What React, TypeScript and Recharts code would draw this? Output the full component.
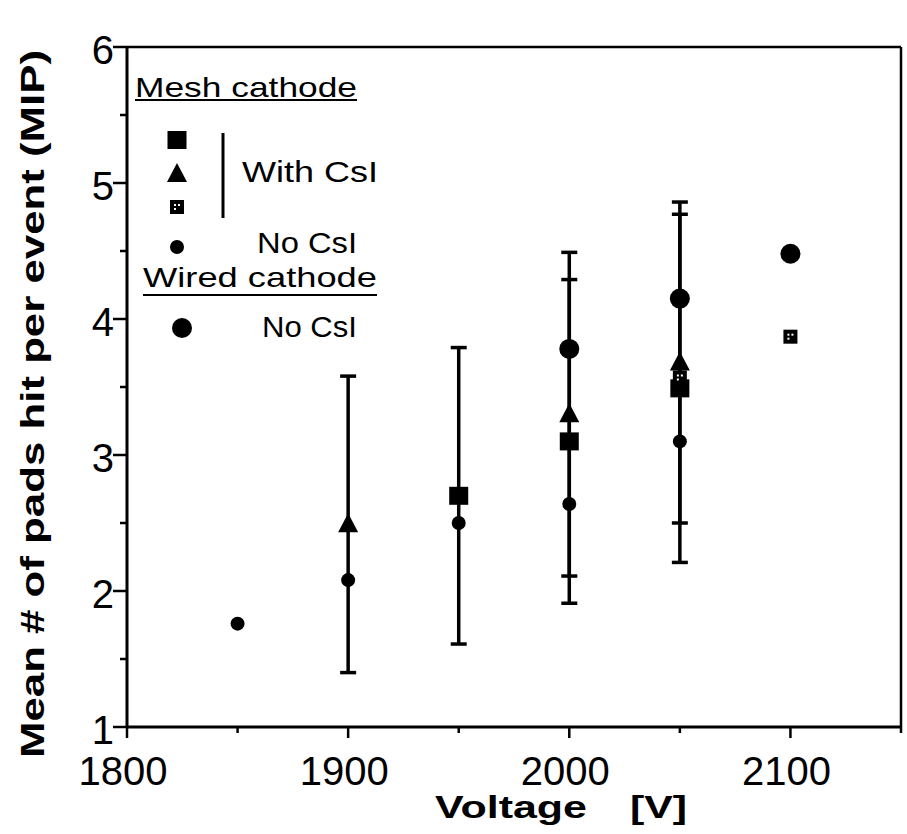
import React from "react";
import { ScatterChart, Scatter, XAxis, YAxis, ErrorBar } from "recharts";

const FONT = '"Liberation Sans", Arial, Helvetica, sans-serif';

// Mesh cathode, with CsI: large squares
const squareVolts = [1950, 2000, 2050];
const squareMip = [2.7, 3.1, 3.49];
const squareErr = [1.09, 1.19, 1.28];

// Mesh cathode, with CsI: triangles
const triangleVolts = [1900, 2000, 2050];
const triangleMip = [2.49, 3.3, 3.68];
const triangleErr = [1.09, 1.19, 1.18];

// Mesh cathode, with CsI: small squares
const smallSquareVolts = [2050, 2100];
const smallSquareMip = [3.57, 3.87];

// Mesh cathode, no CsI: small dots
const meshNoCsiVolts = [1850, 1900, 1950, 2000, 2050];
const meshNoCsiMip = [1.76, 2.08, 2.5, 2.64, 3.1];

// Wired cathode, no CsI: large dots
const wiredVolts = [2000, 2050, 2100];
const wiredMip = [3.78, 4.15, 4.48];

const xTicks = [1800, 1850, 1900, 1950, 2000, 2050, 2100, 2150];
const yTicks = [1, 1.5, 2, 2.5, 3, 3.5, 4, 4.5, 5, 5.5, 6];

const toRows = (v: number[], m: number[], e?: number[]) =>
  v.map((x, i) => ({ v: x, m: m[i], e: e ? e[i] : 0 }));

const W = 907;
const H = 834;
const PLOT_LEFT = 127;
const PLOT_TOP = 47;
const PLOT_RIGHT = 901;
const PLOT_BOTTOM = 727;

// axis band sizes (must be > 0 or recharts skips the axis)
const BOTTOM_AXIS_H = 30;
const TOP_AXIS_H = 14;
const LEFT_AXIS_W = 30;
const RIGHT_AXIS_W = 4;

// marker shapes
const BigSquare = ({ cx, cy }: any) => (
  <rect x={cx - 9.5} y={cy - 9} width={19} height={18} fill="#000" />
);
const Triangle = ({ cx, cy }: any) => (
  <polygon points={`${cx},${cy - 11} ${cx + 10},${cy + 8} ${cx - 10},${cy + 8}`} fill="#000" />
);
const SmallSquare = ({ cx, cy }: any) => (
  <g>
    <rect x={cx - 7} y={cy - 7} width={14} height={14} fill="#000" />
    <rect x={cx - 3} y={cy - 3} width={2} height={2} fill="#fff" />
    <rect x={cx + 1} y={cy - 3} width={2} height={2} fill="#fff" />
    <rect x={cx - 3} y={cy + 1} width={2} height={2} fill="#fff" />
  </g>
);
const SmallDot = ({ cx, cy }: any) => <circle cx={cx} cy={cy} r={7} fill="#000" />;
const BigDot = ({ cx, cy }: any) => <circle cx={cx} cy={cy} r={10} fill="#000" />;

const BottomTick = ({ x, payload }: any) => {
  const major = payload.value % 100 === 0;
  return (
    <g>
      <line x1={x} x2={x} y1={PLOT_BOTTOM} y2={PLOT_BOTTOM + (major ? 11 : 6)} stroke="#000" strokeWidth={2.5} />
      {major && (
        <text x={x - 4} y={785} textAnchor="middle" fontSize={40} fontFamily={FONT} fill="#000">
          {payload.value}
        </text>
      )}
    </g>
  );
};

const TopTick = ({ x, payload }: any) => {
  const major = payload.value % 100 === 0;
  return <line x1={x} x2={x} y1={PLOT_TOP} y2={PLOT_TOP - (major ? 12 : 6)} stroke="#000" strokeWidth={2.5} />;
};

const LeftTick = ({ y, payload }: any) => {
  const major = Number.isInteger(payload.value);
  return (
    <g>
      <line x1={PLOT_LEFT} x2={PLOT_LEFT - (major ? 14 : 7)} y1={y} y2={y} stroke="#000" strokeWidth={2.5} />
      {major && (
        <text x={114} y={y + 17} textAnchor="end" fontSize={40} fontFamily={FONT} fill="#000">
          {payload.value}
        </text>
      )}
    </g>
  );
};

function Legend() {
  const txt = { fontFamily: FONT, fill: "#000" };
  return (
    <svg width={W} height={H} style={{ position: "absolute", left: 0, top: 0, pointerEvents: "none" }}>
      <text x={135} y={97} fontSize={28} textLength={222} lengthAdjust="spacingAndGlyphs" {...txt}>
        Mesh cathode
      </text>
      <line x1={135} x2={357} y1={100} y2={100} stroke="#000" strokeWidth={2} />
      <BigSquare cx={177} cy={140} />
      <Triangle cx={177} cy={174} />
      <SmallSquare cx={177} cy={207} />
      <SmallDot cx={177} cy={247} />
      <line x1={223} x2={223} y1={133} y2={218} stroke="#000" strokeWidth={3} />
      <text x={242} y={182} fontSize={30} textLength={136} lengthAdjust="spacingAndGlyphs" {...txt}>
        With CsI
      </text>
      <text x={257} y={253} fontSize={30} textLength={100} lengthAdjust="spacingAndGlyphs" {...txt}>
        No CsI
      </text>
      <text x={143} y={287} fontSize={28} textLength={234} lengthAdjust="spacingAndGlyphs" {...txt}>
        Wired cathode
      </text>
      <line x1={143} x2={377} y1={295} y2={295} stroke="#000" strokeWidth={2} />
      <BigDot cx={182} cy={328} />
      <text x={262} y={337} fontSize={30} textLength={95} lengthAdjust="spacingAndGlyphs" {...txt}>
        No CsI
      </text>

      {/* axis titles */}
      <text x={435} y={818} fontSize={32} fontWeight="bold" textLength={152} lengthAdjust="spacingAndGlyphs" {...txt}>
        Voltage
      </text>
      <text x={630} y={818} fontSize={32} fontWeight="bold" textLength={57} lengthAdjust="spacingAndGlyphs" {...txt}>
        [V]
      </text>
      <text
        transform="translate(44, 758) rotate(-90)"
        fontSize={34}
        fontWeight="bold"
        textLength={708}
        lengthAdjust="spacingAndGlyphs"
        {...txt}
      >
        Mean # of pads hit per event (MIP)
      </text>
    </svg>
  );
}

export default function App() {
  return (
    <div style={{ position: "absolute", left: 0, top: 0, width: W, height: H, background: "#fff" }}>
      <ScatterChart
        width={W}
        height={H}
        margin={{
          top: PLOT_TOP - TOP_AXIS_H,
          right: W - PLOT_RIGHT - RIGHT_AXIS_W,
          bottom: H - PLOT_BOTTOM - BOTTOM_AXIS_H,
          left: PLOT_LEFT - LEFT_AXIS_W,
        }}
      >
        <XAxis
          type="number"
          dataKey="v"
          domain={[1800, 2150]}
          ticks={xTicks}
          height={BOTTOM_AXIS_H}
          tickSize={0}
          tickLine={false}
          tick={<BottomTick />}
          axisLine={{ stroke: "#000", strokeWidth: 3 }}
          interval={0}
        />
        <XAxis
          xAxisId="top"
          orientation="top"
          type="number"
          domain={[1800, 2150]}
          ticks={xTicks}
          height={TOP_AXIS_H}
          tickSize={0}
          tickLine={false}
          tick={<TopTick />}
          axisLine={{ stroke: "#000", strokeWidth: 2.5 }}
          interval={0}
        />
        <YAxis
          type="number"
          dataKey="m"
          domain={[1, 6]}
          ticks={yTicks}
          width={LEFT_AXIS_W}
          tickSize={0}
          tickLine={false}
          tick={<LeftTick />}
          axisLine={{ stroke: "#000", strokeWidth: 3 }}
          interval={0}
        />
        <YAxis
          yAxisId="right"
          orientation="right"
          type="number"
          domain={[1, 6]}
          ticks={yTicks}
          width={RIGHT_AXIS_W}
          tick={false}
          tickLine={false}
          axisLine={{ stroke: "#000", strokeWidth: 2.5 }}
        />
        <Scatter data={toRows(squareVolts, squareMip, squareErr)} shape={<BigSquare />} isAnimationActive={false}>
          <ErrorBar dataKey="e" direction="y" width={8} strokeWidth={3.5} stroke="#000" />
        </Scatter>
        <Scatter data={toRows(triangleVolts, triangleMip, triangleErr)} shape={<Triangle />} isAnimationActive={false}>
          <ErrorBar dataKey="e" direction="y" width={8} strokeWidth={3.5} stroke="#000" />
        </Scatter>
        <Scatter data={toRows(meshNoCsiVolts, meshNoCsiMip)} shape={<SmallDot />} isAnimationActive={false} />
        <Scatter data={toRows(wiredVolts, wiredMip)} shape={<BigDot />} isAnimationActive={false} />
        <Scatter data={toRows(smallSquareVolts, smallSquareMip)} shape={<SmallSquare />} isAnimationActive={false} />
      </ScatterChart>
      <Legend />
    </div>
  );
}
